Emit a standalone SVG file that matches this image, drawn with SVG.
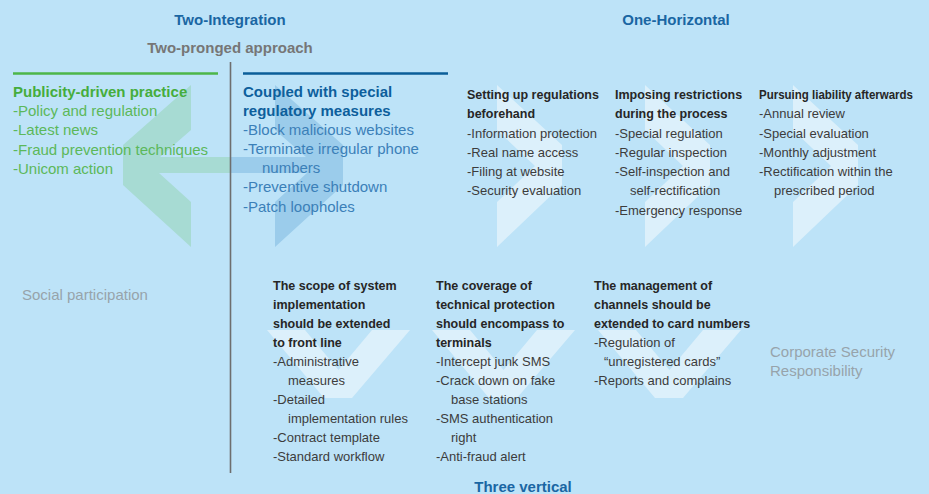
<svg xmlns="http://www.w3.org/2000/svg" width="929" height="494" viewBox="0 0 929 494">
<style>
text{font-family:"Liberation Sans",Arial,sans-serif}
.h{font-size:15px;font-weight:bold;fill:#1a66a3;text-anchor:middle}
.sub{font-size:15px;font-weight:bold;fill:#767676;text-anchor:middle}
.gh{font-size:15px;font-weight:bold;fill:#45ad3c}
.gi{font-size:15px;fill:#5cb85a}
.bh{font-size:15px;font-weight:bold;fill:#0d5f9c}
.bi{font-size:15px;fill:#3b80b8}
.dh{font-size:12.5px;font-weight:bold;fill:#262626}
.di{font-size:13px;fill:#3c3c3c}
.gray{font-size:15px;fill:#97a3ab}
.chev{fill:#dcf0fb}
</style>
<rect width="929" height="494" fill="#bde3f8"/>
<g id="decorations">
<polygon class="chev" points="497,85 562,145 562,185 497,247 497,202 535,166 497,130"/>
<polygon class="chev" points="645,85 710,145 710,185 645,247 645,202 683,166 645,130"/>
<polygon class="chev" points="793,85 858,145 858,185 793,247 793,202 831,166 793,130"/>
<polygon class="chev" points="267,330 324,398 352,398 410,330 372,330 338.5,370 305,330"/>
<polygon class="chev" points="432,330 489,398 517,398 575,330 537,330 503.5,370 470,330"/>
<polygon class="chev" points="598,330 655,398 683,398 741,330 703,330 669.5,370 636,330"/>
</g>
<g id="connectors">
<polygon fill="#a7dbd3" points="191,85 123,145 123,185 191,247 191,202 159,173 230,173 230,157 160,157 191,130"/>
<polygon fill="#9bcceb" points="275,85 343,145 343,185 275,247 275,202 307,173 230,173 230,157 306,157 275,130"/>
<line x1="230.5" y1="62" x2="230.5" y2="473" stroke="#6e6e6e" stroke-width="1.6"/>
<line x1="13" y1="73.5" x2="218" y2="73.5" stroke="#4db648" stroke-width="2.5"/>
<line x1="243" y1="73.5" x2="448" y2="73.5" stroke="#0b5e99" stroke-width="2.5"/>
</g>
<g id="titles">
<text class="h" x="230" y="25">Two-Integration</text>
<text class="h" x="676" y="25">One-Horizontal</text>
<text class="sub" x="230" y="53">Two-pronged approach</text>
<text class="h" x="523" y="492">Three vertical</text>
</g>
<g id="publicity">
<text class="gh" x="13" y="97">Publicity-driven practice</text>
<text class="gi" x="13" y="116">-Policy and regulation</text>
<text class="gi" x="13" y="135">-Latest news</text>
<text class="gi" x="13" y="154.5">-Fraud prevention techniques</text>
<text class="gi" x="13" y="173.5">-Unicom action</text>
</g>
<g id="coupled">
<text class="bh" x="243" y="97">Coupled with special</text>
<text class="bh" x="243" y="116">regulatory measures</text>
<text class="bi" x="243" y="135">-Block malicious websites</text>
<text class="bi" x="243" y="154">-Terminate irregular phone</text>
<text class="bi" x="262" y="173">numbers</text>
<text class="bi" x="243" y="192">-Preventive shutdown</text>
<text class="bi" x="243" y="211.5">-Patch loopholes</text>
</g>
<g id="beforehand">
<text class="dh" x="467" y="99">Setting up regulations</text>
<text class="dh" x="467" y="118">beforehand</text>
<text class="di" x="467" y="137.5">-Information protection</text>
<text class="di" x="467" y="157">-Real name access</text>
<text class="di" x="467" y="176">-Filing at website</text>
<text class="di" x="467" y="195">-Security evaluation</text>
</g>
<g id="during">
<text class="dh" x="615" y="99">Imposing restrictions</text>
<text class="dh" x="615" y="118">during the process</text>
<text class="di" x="615" y="137.5">-Special regulation</text>
<text class="di" x="615" y="157">-Regular inspection</text>
<text class="di" x="615" y="176">-Self-inspection and</text>
<text class="di" x="630" y="195">self-rectification</text>
<text class="di" x="615" y="214.5">-Emergency response</text>
</g>
<g id="afterwards">
<text class="dh" x="759" y="99" textLength="154" lengthAdjust="spacingAndGlyphs">Pursuing liability afterwards</text>
<text class="di" x="759" y="118">-Annual review</text>
<text class="di" x="759" y="137.5">-Special evaluation</text>
<text class="di" x="759" y="157">-Monthly adjustment</text>
<text class="di" x="759" y="176">-Rectification within the</text>
<text class="di" x="774" y="195">prescribed period</text>
</g>
<g id="social">
<text class="gray" x="22" y="300">Social participation</text>
</g>
<g id="scope">
<text class="dh" x="273" y="290">The scope of system</text>
<text class="dh" x="273" y="309">implementation</text>
<text class="dh" x="273" y="328">should be extended</text>
<text class="dh" x="273" y="347">to front line</text>
<text class="di" x="273" y="366">-Administrative</text>
<text class="di" x="288" y="385">measures</text>
<text class="di" x="273" y="404">-Detailed</text>
<text class="di" x="288" y="423">implementation rules</text>
<text class="di" x="273" y="442">-Contract template</text>
<text class="di" x="273" y="461">-Standard workflow</text>
</g>
<g id="coverage">
<text class="dh" x="436" y="290">The coverage of</text>
<text class="dh" x="436" y="309">technical protection</text>
<text class="dh" x="436" y="328">should encompass to</text>
<text class="dh" x="436" y="347">terminals</text>
<text class="di" x="436" y="366">-Intercept junk SMS</text>
<text class="di" x="436" y="385">-Crack down on fake</text>
<text class="di" x="451" y="404">base stations</text>
<text class="di" x="436" y="423">-SMS authentication</text>
<text class="di" x="451" y="442">right</text>
<text class="di" x="436" y="461">-Anti-fraud alert</text>
</g>
<g id="channels">
<text class="dh" x="594" y="290">The management of</text>
<text class="dh" x="594" y="309">channels should be</text>
<text class="dh" x="594" y="328">extended to card numbers</text>
<text class="di" x="594" y="347">-Regulation of</text>
<text class="di" x="604" y="366">“unregistered cards”</text>
<text class="di" x="594" y="385">-Reports and complains</text>
</g>
<g id="corporate">
<text class="gray" x="770" y="357">Corporate Security</text>
<text class="gray" x="770" y="376">Responsibility</text>
</g>
</svg>
